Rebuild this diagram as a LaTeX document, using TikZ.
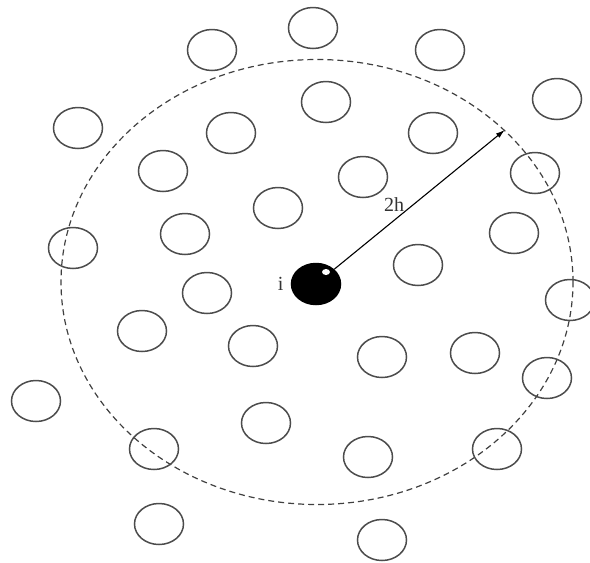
\documentclass[tikz,border=0pt]{standalone}
\usepackage{fontspec}
\setmainfont{Liberation Serif}
\usetikzlibrary{shapes.geometric,arrows.meta,positioning}

\begin{document}
\begin{tikzpicture}[x=0.5pt,y=-0.5pt,
  part/.style={draw=black!70,ellipse,line width=0.75pt,inner sep=0pt,minimum width=24.5pt,minimum height=20.5pt},
  probe/.style={part,draw=black,fill=black},
  zone/.style={draw=black!75,ellipse,dash pattern=on 3pt off 2pt,line width=0.6pt,inner sep=0pt,minimum width=256pt,minimum height=222.5pt},
  lab/.style={font=\fontsize{10}{12}\selectfont,text=black!80,inner sep=0pt}]
\useasboundingbox (0,0) rectangle (590,563);
\node[zone] (zone) at (317,282) {};
\foreach \x/\y [count=\k] in {212/50,313/28,440/50,557/99,78/128,326/102,231/133,433/133,
  163/171,363/177,535/173,278/208,73/248,185/234,514/233,418/265,207/293,570/300,142/331,
  253/346,382/357,475/353,547/378,36/401,266/423,154/449,368/457,497/449,159/524,382/540} {
  \node[part] (p\k) at (\x,\y) {};
}
\node[probe] (i) at (316,284) {};
\fill[white] ([shift={(10,-12)}]i.center) ellipse (2pt and 1.5pt);
\node[lab,left=3.5pt of i] (ilab) {i};
\node[lab] (rlab) at (394,205) {2h};
\draw[line width=0.55pt,-{Latex[length=4.5pt,width=2.8pt]}] (i.39) -- (zone.39);
\end{tikzpicture}
\end{document}
